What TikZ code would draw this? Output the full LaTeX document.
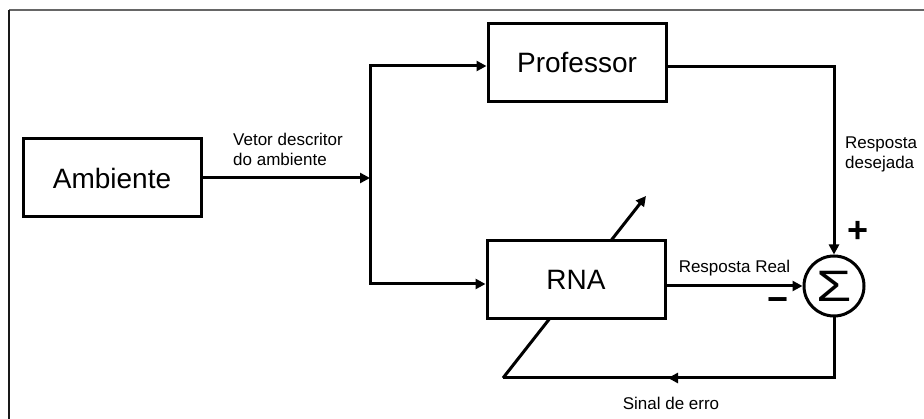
\documentclass[tikz,border=0pt]{standalone}
\usepackage{fontspec}
\setmainfont{Liberation Sans}
\usetikzlibrary{arrows.meta,positioning,calc}

\begin{document}
\begin{tikzpicture}[
    x=1pt, y=-1pt,
    blk/.style={rectangle, draw, line width=3pt, fill=white, minimum width=178pt, minimum height=78pt, font=\fontsize{28}{28}\selectfont},
    soma/.style={circle, draw, line width=3pt, fill=white, minimum size=60pt, inner sep=0pt},
    lbl/.style={font=\fontsize{17}{20}\selectfont, align=left, inner sep=0pt},
    sinal/.style={font=\bfseries\fontsize{36}{36}\selectfont, inner sep=0pt},
    ln/.style={line width=3pt},
    arr/.style={-{Triangle[length=10pt,width=10pt]}, line width=3pt}
]
    \useasboundingbox (0,0) rectangle (924,419);
    \fill[white] (0,0) rectangle (924,419);
    % moldura
    \draw[black!60, line width=1.5pt] (9,10) -- (924,10);
    \draw[black!90, line width=1.5pt] (9,10) -- (9,419);

    \coordinate (split) at (370,178);
    \coordinate (errc) at (503,378);
    \coordinate (errtip) at (646,196);
    \coordinate (errmark) at (668,378);

    % ajuste dos pesos (passa por tras da RNA)
    \draw[arr] (errc) -- (errtip);

    \node [blk] (amb) at (112,178) {Ambiente};
    \node [blk] (prof) at (577,63) {Professor};
    \node [blk] (rna) at (576,280) {RNA};
    \node [soma] (sum) at (834,286) {};
    \node [font=\fontsize{44}{44}\selectfont, xscale=1.3, inner sep=0pt] (sigma) at (sum) {Σ};

    \draw [arr] (amb.east |- split) -- (split);
    \draw [arr] (split) |- ([yshift=-3pt]prof.west);
    \draw [arr] (split) |- ([yshift=-4pt]rna.west);
    \draw [arr] ([yshift=-4pt]prof.east) -| (sum.north);
    \draw [arr] (rna.east |- sum.west) -- node[lbl, above=8pt] (real) {Resposta Real} (sum.west);
    \draw [ln] (sum.south) |- (errc);
    \draw [arr] (sum.south |- errc) -- (errmark);

    \node [lbl, anchor=north west] (vetor) at (233,133) {Vetor descritor\\do ambiente};
    \node [lbl, anchor=north west] (desej) at (845,137) {Resposta\\desejada};
    \node [lbl] (erro) at (671,403) {Sinal de erro};
    \node [sinal] (mais) at (858,232) {+};
    \node [sinal] (menos) at (778,305) {−};
\end{tikzpicture}
\end{document}
